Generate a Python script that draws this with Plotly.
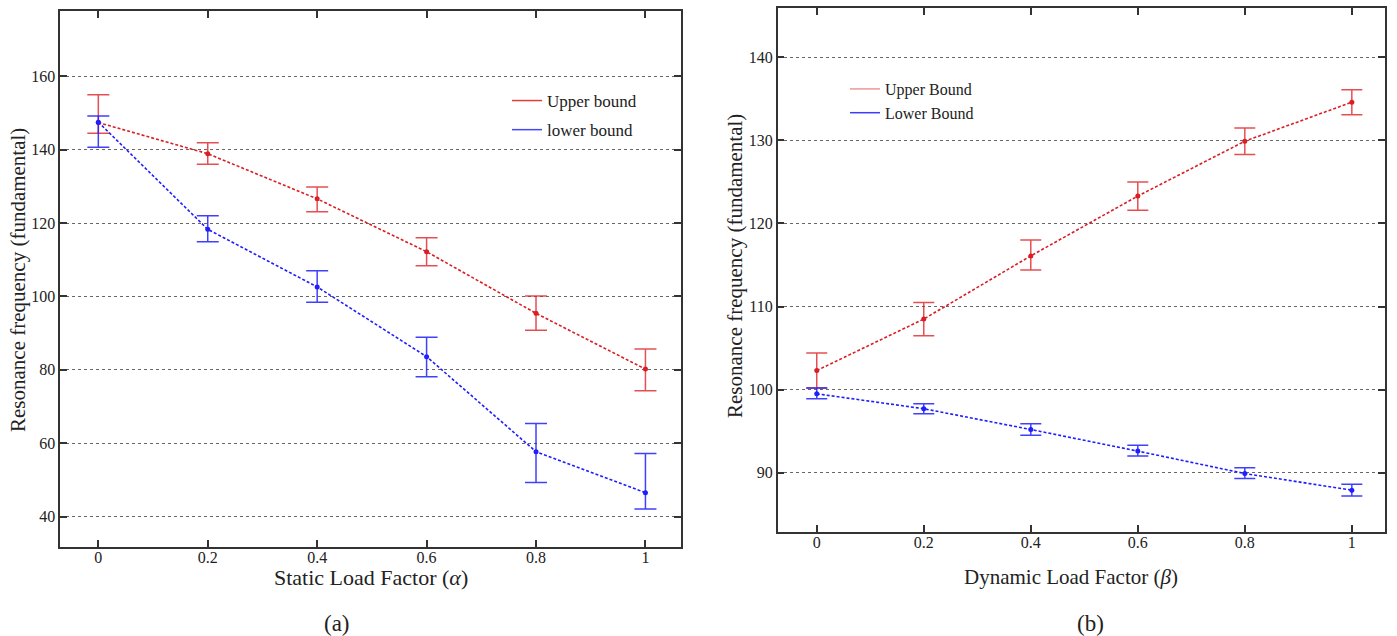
import plotly.graph_objects as go

# ---------------- data ----------------
x_vals = [0, 0.2, 0.4, 0.6, 0.8, 1]
x_ticktext = ["0", "0.2", "0.4", "0.6", "0.8", "1"]

# panel (a): static load factor
a_upper = [147.4, 138.9, 126.6, 112.2, 95.4, 80.2]
a_upper_hi = [155.0, 141.9, 129.8, 116.0, 100.1, 85.7]
a_upper_lo = [144.5, 136.0, 123.1, 108.4, 90.8, 74.3]
a_lower = [147.5, 118.3, 102.6, 83.6, 57.7, 46.5]
a_lower_hi = [149.2, 122.0, 107.0, 88.9, 65.4, 57.2]
a_lower_lo = [140.7, 114.9, 98.4, 78.1, 49.3, 42.1]
a_yticks = [40, 60, 80, 100, 120, 140, 160]

# panel (b): dynamic load factor
b_upper = [102.3, 108.5, 116.1, 123.3, 129.9, 134.6]
b_upper_hi = [104.4, 110.5, 118.0, 125.0, 131.5, 136.1]
b_upper_lo = [100.2, 106.5, 114.4, 121.6, 128.3, 133.1]
b_lower = [99.5, 97.7, 95.2, 92.6, 89.9, 87.9]
b_lower_hi = [100.2, 98.3, 95.9, 93.3, 90.6, 88.6]
b_lower_lo = [98.9, 97.1, 94.5, 92.0, 89.3, 87.2]
b_yticks = [90, 100, 110, 120, 130, 140]

RED = "rgb(218,30,36)"
RED_ERR = "rgba(222,35,40,0.8)"
BLUE = "rgb(30,30,255)"
BLUE_ERR = "rgba(30,30,255,0.85)"
FONT = "Liberation Serif"

W, H = 1397, 636


def err(c, hi, lo, color, width):
    return dict(type="data", symmetric=False,
                array=[h - v for h, v in zip(hi, c)],
                arrayminus=[v - l for v, l in zip(c, lo)],
                color=color, thickness=1.5, width=width)


fig = go.Figure()

def series(xa, ya, y, hi, lo, color, ecolor, cap):
    fig.add_trace(go.Scatter(
        x=x_vals, y=y, xaxis=xa, yaxis=ya, mode="lines+markers",
        line=dict(color=color, width=1.6, dash="3px,2px"),
        marker=dict(color=color, size=5, symbol="circle"),
        error_y=err(y, hi, lo, ecolor, cap), showlegend=False))

series("x", "y", a_upper, a_upper_hi, a_upper_lo, RED, RED_ERR, 11)
series("x", "y", a_lower, a_lower_hi, a_lower_lo, BLUE, BLUE_ERR, 11)
series("x2", "y2", b_upper, b_upper_hi, b_upper_lo, RED, RED_ERR, 10.5)
series("x2", "y2", b_lower, b_lower_hi, b_lower_lo, BLUE, BLUE_ERR, 10.5)

# legend-only entries (solid lines)
def leg(name, color, legend, group):
    fig.add_trace(go.Scatter(
        x=[None], y=[None], mode="lines", name=name,
        line=dict(color=color, width=1.5), legend=legend,
        legendgroup=group, showlegend=True))

leg("Upper bound", "rgb(226,60,60)", "legend", "a1")
leg("lower bound", "rgb(70,70,255)", "legend", "a2")
leg("Upper Bound", "rgb(240,150,150)", "legend2", "b1")
leg("Lower Bound", "rgb(60,60,255)", "legend2", "b2")

axis_common = dict(
    showline=True, linecolor="#333", linewidth=1.5, mirror="ticks",
    ticks="inside", ticklen=7, tickwidth=1.5, tickcolor="#333",
    zeroline=False, tickfont=dict(family=FONT, size=16, color="#222"),
)

# panel geometry (pixels)
aL, aR, aT, aB = 60.3, 681.0, 11.0, 546.7
bL, bR, bT, bB = 777.7, 1385.0, 8.3, 531.7

fig.update_layout(
    width=W, height=H,
    margin=dict(l=0, r=0, t=0, b=0),
    paper_bgcolor="white", plot_bgcolor="white",
    font=dict(family=FONT, size=16, color="#222"),
    xaxis=dict(domain=[aL / W, aR / W], range=[-0.0695, 1.065], anchor="y",
               tickvals=x_vals, ticktext=x_ticktext, showgrid=False,
               ticklabelstandoff=-5, **axis_common),
    yaxis=dict(domain=[1 - aB / H, 1 - aT / H], range=[31.8, 177.8], anchor="x",
               tickvals=a_yticks, showgrid=True, gridcolor="#666", griddash="dot",
               gridwidth=1, **axis_common),
    xaxis2=dict(domain=[bL / W, bR / W], range=[-0.073, 1.062], anchor="y2",
                tickvals=x_vals, ticktext=x_ticktext, showgrid=False,
                ticklabelstandoff=-5, **axis_common),
    yaxis2=dict(domain=[1 - bB / H, 1 - bT / H], range=[82.9, 145.9], anchor="x2",
                tickvals=b_yticks, showgrid=True, gridcolor="#666", griddash="dot",
                gridwidth=1, **axis_common),
    legend=dict(x=507 / W, y=1 - 83 / H, xanchor="left", yanchor="top",
                bgcolor="rgba(0,0,0,0)", borderwidth=0, itemwidth=30,
                tracegroupgap=4, traceorder="grouped",
                font=dict(family=FONT, size=17, color="#222")),
    legend2=dict(x=845 / W, y=1 - 72 / H, xanchor="left", yanchor="top",
                 bgcolor="rgba(0,0,0,0)", borderwidth=0, itemwidth=30,
                 tracegroupgap=0, traceorder="grouped",
                 font=dict(family=FONT, size=16, color="#222")),
)

ann_font = dict(family=FONT, size=21, color="#222")
annotations = [
    dict(text="Static Load Factor (<i>α</i>)", x=370.5 / W, y=1 - 577 / H, size=22),
    dict(text="Dynamic Load Factor (<i>β</i>)", x=1071 / W, y=1 - 577 / H, size=21),
    dict(text="(a)", x=337 / W, y=1 - 623 / H, size=23),
    dict(text="(b)", x=1090 / W, y=1 - 623 / H, size=23),
    dict(text="Resonance frequency (fundamental)", x=18 / W, y=1 - 280 / H,
         textangle=-90, size=21),
    dict(text="Resonance frequency (fundamental)", x=735 / W, y=1 - 266 / H,
         textangle=-90, size=21),
]
for a in annotations:
    size = a.pop("size")
    a.update(xref="paper", yref="paper", showarrow=False, xanchor="center",
             yanchor="middle", font=dict(family=FONT, size=size, color="#222"))
    fig.add_annotation(**a)

fig.write_html("out.html")
